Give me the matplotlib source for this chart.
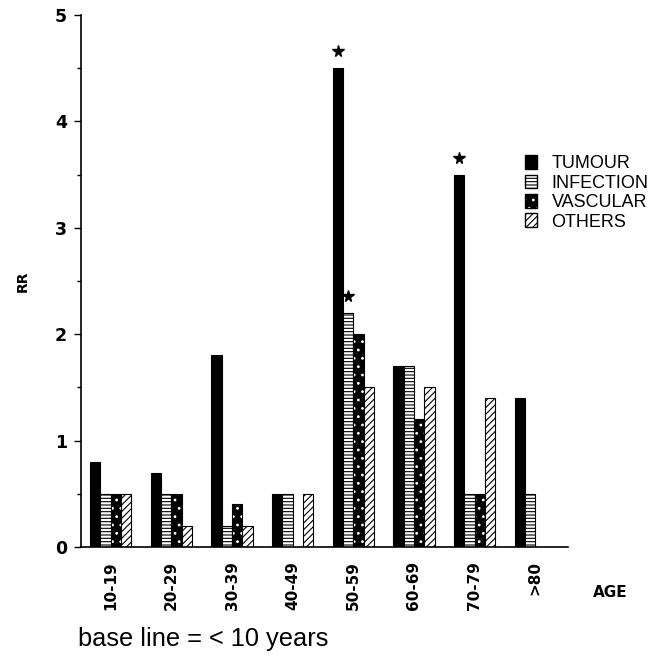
import matplotlib
matplotlib.use("Agg")
import matplotlib.pyplot as plt
import numpy as np
from matplotlib.patches import Patch
from matplotlib.legend_handler import HandlerTuple

ages = ["10-19", "20-29", "30-39", "40-49", "50-59", "60-69", "70-79", ">80"]
tumour = [0.8, 0.7, 1.8, 0.5, 4.5, 1.7, 3.5, 1.4]
infection = [0.5, 0.5, 0.2, 0.5, 2.2, 1.7, 0.5, 0.5]
vascular = [0.5, 0.5, 0.4, 0.0, 2.0, 1.2, 0.5, 0.0]
others = [0.5, 0.2, 0.2, 0.5, 1.5, 1.5, 1.4, 0.0]
# significant bars: (age index, series index)
stars = [(4, 0), (4, 1), (6, 0)]

plt.rcParams['hatch.linewidth'] = 0.8

fig = plt.figure(figsize=(6.59, 6.64), dpi=100)
ax = fig.add_axes([0.1229, 0.1762, 0.7391, 0.8012])

x = np.arange(len(ages))
w = 0.17
offs = np.array([-1.5, -0.5, 0.5, 1.5]) * w
series = [tumour, infection, vascular, others]

ax.bar(x + offs[0], tumour, w, color="black", edgecolor="black", linewidth=0.8)
ax.bar(x + offs[1], infection, w, color="white", edgecolor="black", hatch="-----", linewidth=0.8)
# vascular: black with white dots, then black outline on top
ax.bar(x + offs[2], vascular, w, color="black", edgecolor="white", hatch="..", linewidth=0)
ax.bar(x + offs[2], vascular, w, fill=False, edgecolor="black", linewidth=0.8)
ax.bar(x + offs[3], others, w, color="white", edgecolor="black", hatch="/////", linewidth=0.8)

for i, s in stars:
    ax.plot(x[i] + offs[s], series[s][i] + 0.16, marker="*", color="black",
            markersize=8.5, linestyle="none")

ax.set_xlim(-0.49, 7.54)
ax.set_ylim(0, 5)
ax.spines["top"].set_visible(False)
ax.spines["right"].set_visible(False)
ax.spines["left"].set_linewidth(1.2)
ax.spines["bottom"].set_linewidth(1.2)

ax.set_yticks([0, 1, 2, 3, 4, 5])
ax.set_yticks(np.arange(0.5, 5, 1), minor=True)
ax.tick_params(axis="y", which="major", length=5, width=1, labelsize=12.5, pad=5)
ax.tick_params(axis="y", which="minor", length=3, width=1)
for t in ax.get_yticklabels():
    t.set_fontweight("bold")

ax.set_xticks(x)
ax.set_xticklabels(ages, rotation=90, fontsize=11, fontweight="bold")
ax.tick_params(axis="x", length=0, pad=10)

ax.set_ylabel("RR", fontsize=10, fontweight="bold", labelpad=18)
fig.text(0.9, 0.108, "AGE", fontsize=11, fontweight="bold", ha="left", va="center")
fig.text(0.118, 0.038, "base line = < 10 years", fontsize=18.3,
         family="Liberation Sans", ha="left", va="center")

handles = [
    Patch(facecolor="black", edgecolor="black"),
    Patch(facecolor="white", edgecolor="black", hatch="-----"),
    (Patch(facecolor="black", edgecolor="white", hatch="..", linewidth=0),
     Patch(fill=False, edgecolor="black")),
    Patch(facecolor="white", edgecolor="black", hatch="/////"),
]
fig.legend(handles, ["TUMOUR", "INFECTION", "VASCULAR", "OTHERS"],
           loc="upper left", bbox_to_anchor=(0.785, 0.777), frameon=False,
           prop={"family": "Liberation Sans", "size": 13},
           handler_map={tuple: HandlerTuple(ndivide=1)},
           handlelength=0.7, handleheight=0.8, handletextpad=0.8,
           labelspacing=0.12, borderaxespad=0)

fig.savefig("out.png", dpi=100)
